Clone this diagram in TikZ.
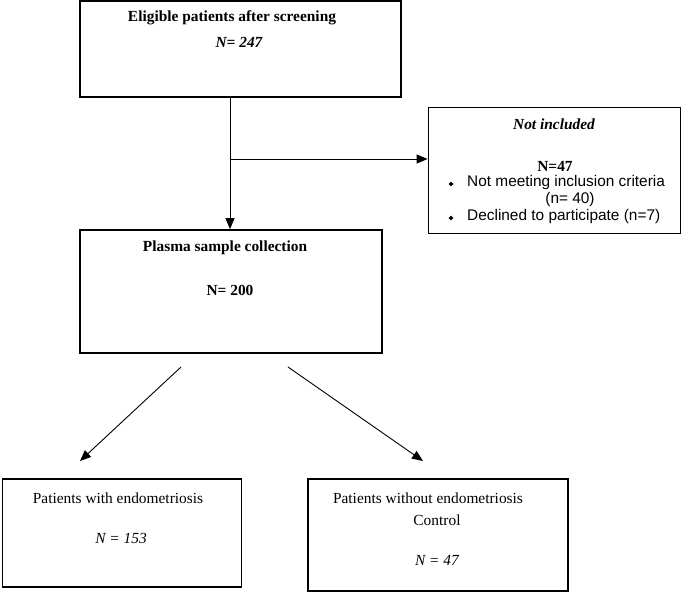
\documentclass[tikz,border=0pt]{standalone}
\usepackage{fontspec}
\setmainfont{Liberation Serif}
\newfontfamily\arial{Liberation Sans}
\usetikzlibrary{arrows.meta,calc,shapes.geometric}
\begin{document}
\begin{tikzpicture}[x=1pt,y=-1pt,
  box/.style={draw,line width=1.6pt,inner sep=0pt},
  thinbox/.style={draw,line width=0.9pt,inner sep=0pt},
  txt/.style={inner sep=0pt,anchor=center,font=\fontsize{15.4}{18}\selectfont},
  ttxt/.style={inner sep=0pt,anchor=center,font=\arial\fontsize{15.4}{18}\selectfont},
  arr/.style={line width=0.9pt,-{Triangle[length=11pt,width=9pt]}},
  bul/.style={fill,diamond,inner sep=0pt,minimum size=5pt}]
\useasboundingbox (0,0) rectangle (685,592);
% boxes
\node[box,minimum width=321pt,minimum height=96pt] (b1) at (240.5,49) {};
\node[thinbox,minimum width=252pt,minimum height=126pt] (b3) at (554,170) {};
\node[box,minimum width=302pt,minimum height=123pt] (b2) at (231,291.5) {};
\node[box,minimum width=239pt,minimum height=108pt] (b4) at (122,533) {};
\node[box,minimum width=260pt,minimum height=112pt] (b5) at (438,535) {};
% texts
\node[txt,font=\bfseries\fontsize{15.4}{18}\selectfont] (t1) at (232,18) {Eligible patients after screening};
\node[txt,font=\bfseries\itshape\fontsize{15.4}{18}\selectfont] (t1n) at (239,42) {N= 247};
\node[txt,font=\bfseries\itshape\fontsize{15.4}{18}\selectfont] (t3) at (554,124) {Not included};
\node[txt,font=\bfseries\fontsize{15.4}{18}\selectfont] (t3n) at (555,166) {N=47};
\node[ttxt,anchor=west] (t3a) at (467,183) {Not meeting inclusion criteria};
\node[ttxt] (t3b) at (570,200) {(n= 40)};
\node[ttxt,anchor=west] (t3c) at (467,217) {Declined to participate (n=7)};
\node[bul] (d1) at (451,184) {};
\node[bul] (d2) at (451,218) {};
\node[txt,font=\bfseries\fontsize{15.4}{18}\selectfont] (t2) at (225,248) {Plasma sample collection};
\node[txt,font=\bfseries\fontsize{15.4}{18}\selectfont] (t2n) at (230,290) {N= 200};
\node[txt] (t4) at (118,498) {Patients with endometriosis};
\node[txt] (t4n) at (121,538) {\itshape N = 153};
\node[txt] (t5) at (428,498) {Patients without endometriosis};
\node[txt] (t5b) at (437,520) {Control};
\node[txt] (t5n) at (437,560) {\itshape N = 47};
% connectors
\coordinate (j) at (230,159);
\draw[line width=0.9pt] (b1.south -| j) -- (j);
\draw[arr] (j) -- (b2.north -| j);
\draw[arr] (j) -- (b3.west |- j);
\coordinate (l0) at (181,367);
\coordinate (l1) at (80,461);
\coordinate (r0) at (288,367);
\coordinate (r1) at (423,461);
\draw[arr] (l0) -- (l1);
\draw[arr] (r0) -- (r1);
\end{tikzpicture}
\end{document}
